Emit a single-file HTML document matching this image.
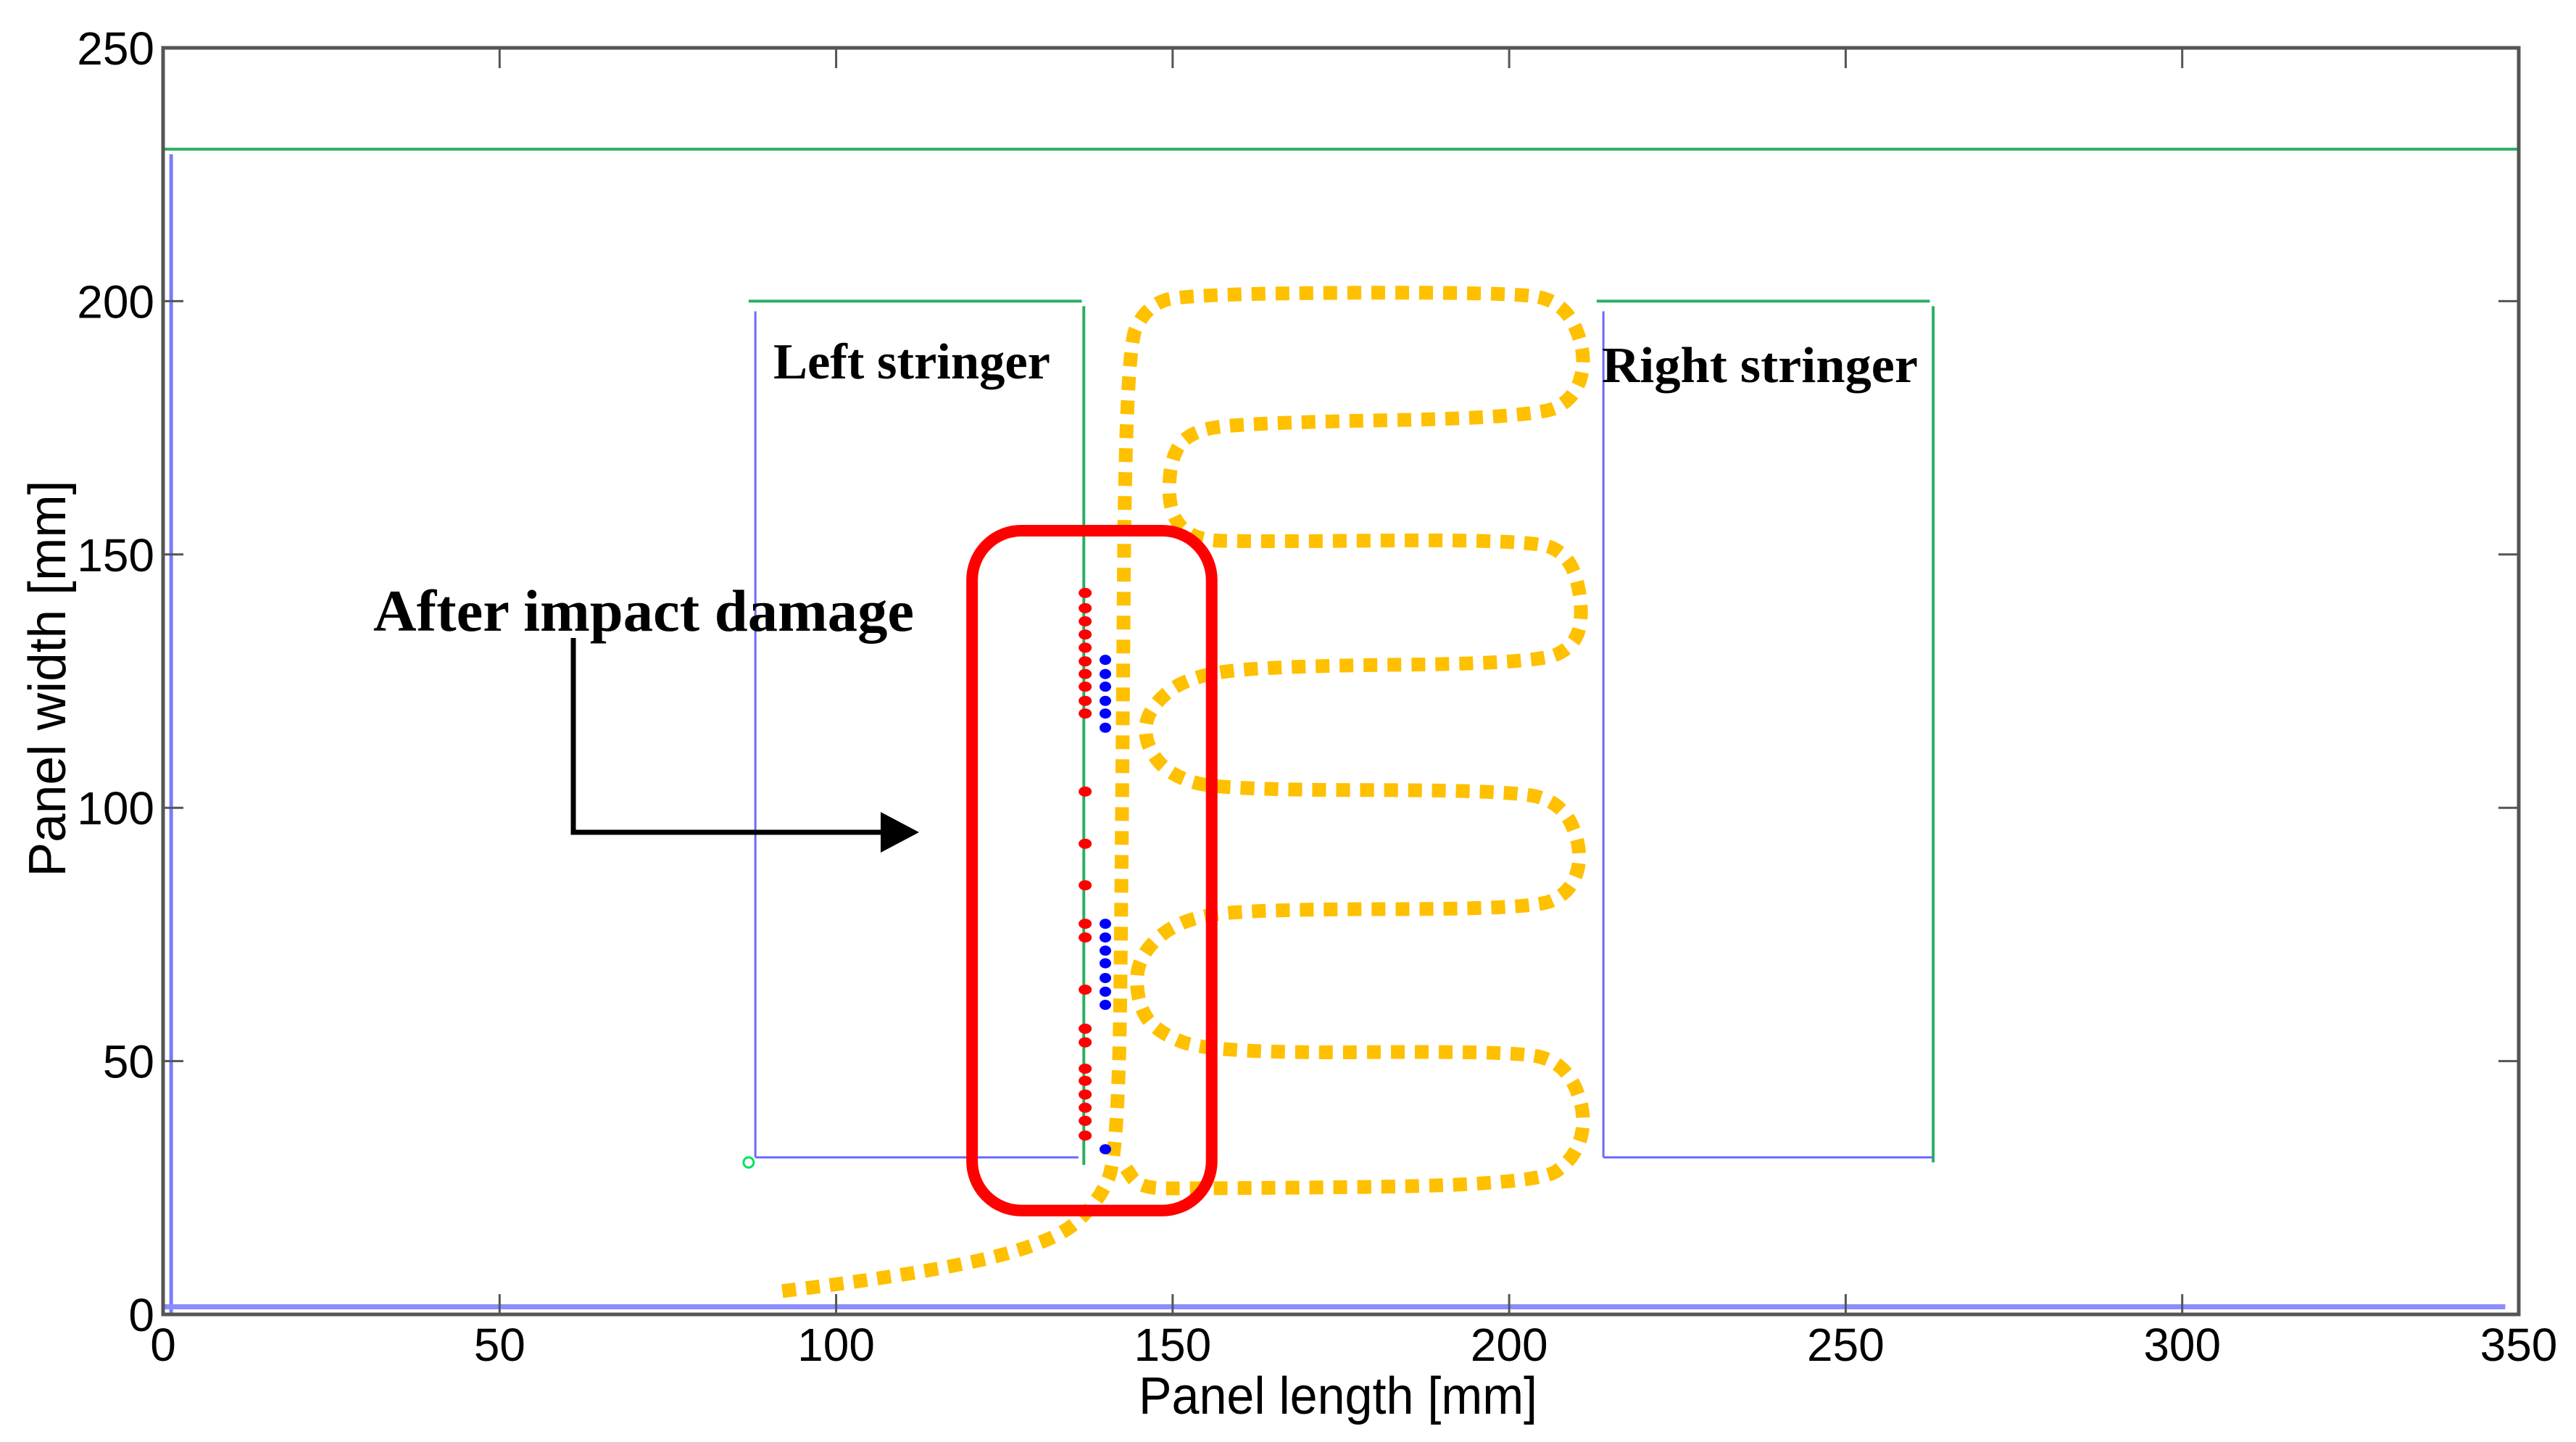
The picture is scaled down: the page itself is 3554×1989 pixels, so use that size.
<!DOCTYPE html>
<html><head><meta charset="utf-8"><style>
html,body{margin:0;padding:0;background:#fff;}
svg{display:block;}
</style></head><body>
<svg id="chart" width="3554" height="1989" viewBox="0 0 3554 1989" xmlns="http://www.w3.org/2000/svg">
<rect x="0" y="0" width="3554" height="1989" fill="#fff"/>
<g id="marks"></g>
<g id="axes"></g>
<text x="1067" y="522" font-family="Liberation Serif, serif" font-weight="bold" font-size="70" textLength="382" lengthAdjust="spacingAndGlyphs">Left stringer</text>
<text x="2210" y="527" font-family="Liberation Serif, serif" font-weight="bold" font-size="70" textLength="436" lengthAdjust="spacingAndGlyphs">Right stringer</text>
<text x="515" y="870" font-family="Liberation Serif, serif" font-weight="bold" font-size="82" textLength="746" lengthAdjust="spacingAndGlyphs">After impact damage</text>
<path d="M791 880 L791 1148 L1222 1148" fill="none" stroke="#000" stroke-width="7"/>
<polygon points="1215,1120 1268,1148 1215,1176" fill="#000"/>
<text x="1846" y="1950" text-anchor="middle" font-family="Liberation Sans, sans-serif" font-size="72" textLength="550" lengthAdjust="spacingAndGlyphs">Panel length [mm]</text>
<text transform="translate(90,936) rotate(-90)" text-anchor="middle" font-family="Liberation Sans, sans-serif" font-size="72" textLength="547" lengthAdjust="spacingAndGlyphs">Panel width [mm]</text>
</svg>
<script>
const xTicks=[0,50,100,150,200,250,300,350];
const yTicks=[0,50,100,150,200,250];
const redDotsY=[142.4,139.4,136.8,134.2,131.6,128.9,126.4,123.9,121.1,118.6,103.2,92.9,84.7,77.1,74.4,64.1,56.4,53.7,48.5,46.1,43.4,40.8,38.2,35.3];
const redDotsX=137;
const blueDotsY=[129.2,126.4,123.9,121.1,118.6,115.8,77.1,74.4,71.8,69.3,66.4,63.7,61.1,32.6];
const blueDotsX=140;
const pathX=[92,112,132,139,142,142.5,143,146,152,200,208,211.5,210,204,160,152,149.5,149.5,153,160,203,209,211,210,204,165,152,146,146,150,158,200,208,211,209,203,162,151,145,144.5,147,156,200,208,211.5,210,204,152,145,143];
const pathY=[4.6,7.8,14,22,32,100,190,199,201.5,201.8,200,190,181,177,176,174,168,158,153,152.5,153,150,140,132,128.5,128,126,119,112,106,103.5,103.5,101,91,83,80,80,78,71,63,56,51.5,52,50,40,31,25.5,24.8,25,29];
const lineSegs=[
 ["panel-top-edge","#2ab062",[0,230],[350,230],4],
 ["panel-right-edge","#2ab062",[350,230],[350,0],4],
 ["panel-left-edge","#7a7aff",[1.2,229],[1.2,0],5],
 ["panel-bottom-edge","#8c8cff",[0,1.5],[348,1.5],7],
 ["left-stringer-left","#6a6aff",[88,198],[88,31],3],
 ["left-stringer-top","#2ab062",[87,200],[136.5,200],4],
 ["left-stringer-right","#2ab062",[136.8,199],[136.8,29.5],4],
 ["left-stringer-bottom","#6a6aff",[88,31],[136,31],3],
 ["right-stringer-left","#6a6aff",[214,198],[214,31],3],
 ["right-stringer-top","#2ab062",[213,200],[262.5,200],4],
 ["right-stringer-right","#2ab062",[263,199],[263,30],4],
 ["right-stringer-bottom","#6a6aff",[214,31],[263,31],3]
];
const X0=225,X1=3475,Y0=1813,Y1=66;
function sx(v){return X0+(v/350)*(X1-X0);}
function sy(v){return Y0-(v/250)*(Y0-Y1);}
const NS="http://www.w3.org/2000/svg";
const marks=document.getElementById('marks');
const axes=document.getElementById('axes');
function mk(tag,attrs,parent){const e=document.createElementNS(NS,tag);for(const k in attrs)e.setAttribute(k,attrs[k]);parent.appendChild(e);return e;}
lineSegs.forEach(s=>{
 const l=mk('line',{x1:sx(s[2][0]),y1:sy(s[2][1]),x2:sx(s[3][0]),y2:sy(s[3][1]),stroke:s[1],'stroke-width':s[4]},marks);
 
 
});
const oc=mk('circle',{cx:sx(87),cy:sy(30),r:7,fill:'none',stroke:'#00e060','stroke-width':3},marks);


let d='M'+sx(pathX[0])+' '+sy(pathY[0]);
for(let i=1;i<pathX.length-1;i++){
 const mx=(sx(pathX[i])+sx(pathX[i+1]))/2,my=(sy(pathY[i])+sy(pathY[i+1]))/2;
 d+=' Q'+sx(pathX[i])+' '+sy(pathY[i])+' '+mx+' '+my;
}
d+=' L'+sx(pathX[pathX.length-1])+' '+sy(pathY[pathY.length-1]);
const p=mk('path',{d:d,fill:'none',stroke:'#ffc000','stroke-width':19,'stroke-dasharray':'19 14'},marks);


const rb=mk('rect',{x:sx(120.2),y:sy(154.7),width:sx(155.8)-sx(120.2),height:sy(20.5)-sy(154.7),rx:68,ry:68,fill:'none',stroke:'#ff0000','stroke-width':16},marks);


redDotsY.forEach(v=>{
 const c=mk('ellipse',{cx:sx(redDotsX),cy:sy(v),rx:9,ry:7,fill:'#ff0000'},marks);
 
 
});
blueDotsY.forEach(v=>{
 const c=mk('ellipse',{cx:sx(blueDotsX),cy:sy(v),rx:8,ry:7,fill:'#0000ff'},marks);
 
 
});
const fr=mk('rect',{x:X0,y:Y1,width:X1-X0,height:Y0-Y1,fill:'none',stroke:'#555','stroke-width':5},axes);


xTicks.forEach(v=>{
 const x=sx(v);
 const t1=mk('line',{x1:x,y1:Y0,x2:x,y2:Y0-28,stroke:'#555','stroke-width':3},axes);
 
 
 const t2=mk('line',{x1:x,y1:Y1,x2:x,y2:Y1+28,stroke:'#555','stroke-width':3},axes);
 
 
 const tx=mk('text',{x:x,y:1877,'text-anchor':'middle','font-family':'Liberation Sans, sans-serif','font-size':64},axes);
 tx.textContent=String(v);
 
 
});
yTicks.forEach(v=>{
 const y=sy(v);
 const t1=mk('line',{x1:X0,y1:y,x2:X0+28,y2:y,stroke:'#555','stroke-width':3},axes);
 
 
 const t2=mk('line',{x1:X1,y1:y,x2:X1-28,y2:y,stroke:'#555','stroke-width':3},axes);
 
 
 const tx=mk('text',{x:213,y:y+23,'text-anchor':'end','font-family':'Liberation Sans, sans-serif','font-size':64},axes);
 tx.textContent=String(v);
 
 
});
</script>
</body></html>
